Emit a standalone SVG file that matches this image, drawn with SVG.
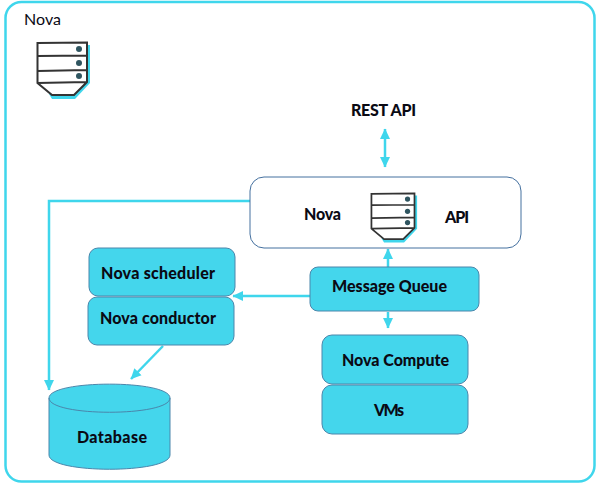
<svg xmlns="http://www.w3.org/2000/svg" width="600" height="488" viewBox="0 0 600 488">
<defs>
<marker id="a" markerUnits="userSpaceOnUse" markerWidth="11" markerHeight="11" refX="10" refY="5.500" orient="auto-start-reverse"><path d="M0 0.500L10.500 5.500L0 10.500Z" fill="#3fd6ec"/></marker>
<g id="srv">
<path d="M46 3H53V41L38 57H15L12 52H36L46 39Z" fill="#3fd6ec"/>
<path d="M0 1L50 0V40L37 53H15L0 41Z" fill="#fff"/>
<path d="M0.500 1L50 0.500V40L37 53H15L0.500 41ZM0.500 14L50 13.500M0.500 29L50 28M0.500 41L50 40" fill="none" stroke="#333" stroke-width="2"/>
<circle cx="42" cy="7" r="3" fill="#2f5560"/><circle cx="42" cy="21" r="3" fill="#2f5560"/><circle cx="42" cy="34" r="3" fill="#2f5560"/>
</g>
</defs>
<style>
text{font-family:Lato,"Liberation Sans",sans-serif;fill:#0a0a14;font-weight:900;font-size:16px}
.c{fill:none;stroke:#3fd6ec;stroke-width:2.500}
.n{fill:#44d6ec;stroke:#4a86ab;stroke-width:1}
</style>
<rect x="5.500" y="2" width="589" height="479.500" rx="16" fill="#fff" stroke="#3fd6ec" stroke-width="2.500"/>
<g id="connectors">
<path class="c" d="M385 129V167" marker-start="url(#a)" marker-end="url(#a)"/>
<path class="c" d="M250 201H49V390" marker-end="url(#a)"/>
<path class="c" d="M310 296H233" marker-end="url(#a)"/>
<path class="c" d="M388 267V249" marker-end="url(#a)"/>
<path class="c" d="M388 312V328" marker-end="url(#a)"/>
<path class="c" d="M163 346L131 379" marker-end="url(#a)"/>
</g>
<g id="nova-title"><text x="24" y="25" style="font-weight:400;font-size:16px;font-family:Lato,sans-serif" textLength="37">Nova</text></g>
<use id="nova-icon" href="#srv" x="37" y="42"/>
<g id="rest-api"><text x="351" y="116" textLength="65">REST API</text></g>
<g id="nova-api">
<rect x="250" y="177" width="271" height="71" rx="14" fill="#fff" stroke="#44709f" stroke-width="1"/>
<use href="#srv" transform="translate(371 193) scale(.87)"/>
<text x="304" y="220" textLength="37">Nova</text>
<text x="445" y="223" textLength="24">API</text>
</g>
<g id="message-queue"><rect class="n" x="310" y="267" width="169" height="44" rx="8"/><text x="332" y="292" textLength="115">Message Queue</text></g>
<g id="nova-scheduler"><rect class="n" x="89" y="248" width="146" height="48" rx="9"/><text x="101" y="279" textLength="114">Nova scheduler</text></g>
<g id="nova-conductor"><rect class="n" x="88" y="297" width="146" height="48" rx="9"/><text x="100" y="324" textLength="116">Nova conductor</text></g>
<g id="nova-compute"><rect class="n" x="322" y="335" width="146" height="49" rx="10"/><text x="342" y="366" textLength="107">Nova Compute</text></g>
<g id="vms"><rect class="n" x="322" y="385" width="146" height="49" rx="10"/><text x="374" y="416" textLength="30">VMs</text></g>
<g id="database">
<path class="n" d="M49 398C49 379.500 170 379.500 170 398V455C170 474 49 474 49 455Z"/>
<path d="M49 398C49 417 170 417 170 398" fill="none" stroke="#4a86ab"/>
<text x="77" y="443" textLength="70">Database</text>
</g>
</svg>
